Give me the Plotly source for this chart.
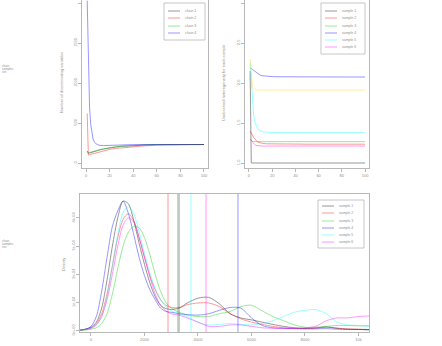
import plotly.graph_objects as go

W, H = 442, 346

# ---------------- data ----------------
# Top-left: number of discriminating variables per iteration, 4 chains
iters = [1, 2, 3, 4, 5, 6, 7, 8, 10, 12, 15, 20, 25, 30, 40, 50, 60, 70, 80, 90, 100]
chain_labels = ["chain 1", "chain 2", "chain 3", "chain 4"]
chain_colors = ["#000000", "#FF0000", "#00CD00", "#0000FF"]
chain_black = [150, 120, 125, 130, 135, 140, 145, 150, 158, 165, 175, 190, 200, 208, 218, 224, 228, 230, 231, 231, 231]
chain_red = [620, 100, 104, 108, 112, 116, 120, 124, 130, 138, 150, 170, 182, 190, 205, 215, 224, 229, 231, 231, 231]
chain_green = [140, 130, 132, 135, 140, 144, 148, 152, 160, 168, 178, 192, 202, 210, 220, 226, 229, 230, 231, 231, 231]
chain_blue = [2030, 1150, 700, 480, 360, 300, 265, 245, 228, 220, 218, 222, 226, 228, 230, 231, 231, 231, 231, 231, 231]
chain_values = [chain_black, chain_red, chain_green, chain_blue]
tl_yticks = [0, 500, 1000, 1500, 2000]

# Top-right: unobserved heterogeneity per sample
sample_labels = ["sample 1", "sample 2", "sample 3", "sample 4", "sample 5", "sample 6"]
sample_colors = ["#000000", "#FF0000", "#00CD00", "#0000FF", "#00FFFF", "#FF00FF", "#FFD700"]
het_black = [2.15, 1.0, 1.0, 1.0, 1.0, 1.0, 1.0, 1.0, 1.0, 1.0, 1.0, 1.0, 1.0, 1.0, 1.0, 1.0, 1.0, 1.0, 1.0, 1.0, 1.0]
het_red = [1.40, 1.38, 1.35, 1.32, 1.30, 1.28, 1.27, 1.26, 1.25, 1.245, 1.24, 1.238, 1.236, 1.235, 1.235, 1.235, 1.235, 1.235, 1.235, 1.235, 1.235]
het_green = [1.30, 1.28, 1.27, 1.268, 1.267, 1.267, 1.267, 1.267, 1.267, 1.267, 1.267, 1.267, 1.267, 1.267, 1.267, 1.267, 1.267, 1.267, 1.267, 1.267, 1.267]
het_blue = [2.18, 2.18, 2.17, 2.16, 2.14, 2.13, 2.12, 2.11, 2.095, 2.09, 2.085, 2.08, 2.078, 2.077, 2.076, 2.075, 2.075, 2.075, 2.075, 2.075, 2.075]
het_cyan = [2.25, 2.0, 1.75, 1.6, 1.52, 1.47, 1.44, 1.42, 1.40, 1.39, 1.385, 1.38, 1.38, 1.38, 1.38, 1.38, 1.38, 1.38, 1.38, 1.38, 1.38]
het_magenta = [1.30, 1.28, 1.26, 1.24, 1.23, 1.22, 1.218, 1.215, 1.213, 1.212, 1.212, 1.212, 1.212, 1.212, 1.212, 1.212, 1.212, 1.212, 1.212, 1.212, 1.212]
het_yellow = [2.30, 2.05, 1.95, 1.93, 1.92, 1.915, 1.913, 1.912, 1.912, 1.912, 1.912, 1.912, 1.912, 1.912, 1.912, 1.912, 1.912, 1.912, 1.912, 1.912, 1.912]
het_values = [het_black, het_red, het_green, het_blue, het_cyan, het_magenta, het_yellow]
tr_yticks = [1.0, 1.5, 2.0, 2.5, 3.0]
iter_ticks = [0, 20, 40, 60, 80, 100]

# Bottom: densities (units of 1e-4)
dens_x = [-400, -200, 0, 200, 400, 600, 800, 1000, 1200, 1400, 1600, 1800, 2000, 2200, 2400, 2600, 2800,
          3000, 3300, 3600, 4000, 4400, 4800, 5200, 5600, 6000, 6400, 6800, 7200, 7600, 8000, 8400, 8800,
          9200, 9600, 10000, 10400]
dens_black = [0.02, 0.05, 0.12, 0.3, 0.8, 1.8, 3.0, 4.0, 4.6, 4.5, 3.9, 3.1, 2.35, 1.7, 1.2, 0.9, 0.78,
              0.75, 0.8, 0.98, 1.15, 1.18, 0.95, 0.6, 0.45, 0.38, 0.3, 0.22, 0.15, 0.1, 0.08, 0.1, 0.13,
              0.08, 0.05, 0.04, 0.03]
dens_red = [0.02, 0.05, 0.1, 0.25, 0.6, 1.3, 2.3, 3.3, 3.95, 4.15, 3.9, 3.3, 2.6, 1.95, 1.45, 1.1, 0.9,
            0.82, 0.82, 0.92, 0.98, 0.98, 0.85, 0.6, 0.42, 0.3, 0.22, 0.15, 0.1, 0.08, 0.07, 0.08, 0.12,
            0.09, 0.06, 0.05, 0.04]
dens_green = [0.01, 0.02, 0.05, 0.1, 0.25, 0.6, 1.3, 2.2, 3.0, 3.5, 3.7, 3.65, 3.3, 2.7, 2.0, 1.4, 1.0,
              0.8, 0.65, 0.55, 0.5, 0.5, 0.6, 0.68, 0.85, 0.9, 0.7, 0.5, 0.35, 0.2, 0.12, 0.12, 0.15,
              0.18, 0.18, 0.17, 0.17]
dens_blue = [0.02, 0.05, 0.15, 0.5, 1.4, 2.6, 3.7, 4.25, 4.6, 4.15, 3.4, 2.6, 1.95, 1.45, 1.1, 0.8, 0.68,
             0.65, 0.6, 0.57, 0.55, 0.6, 0.72, 0.82, 0.8, 0.45, 0.18, 0.1, 0.08, 0.07, 0.06, 0.06, 0.07,
             0.05, 0.04, 0.04, 0.03]
dens_cyan = [0.02, 0.04, 0.08, 0.2, 0.5, 1.2, 2.3, 3.4, 4.2, 4.4, 4.15, 3.5, 2.75, 2.05, 1.5, 1.1, 0.85,
             0.7, 0.6, 0.5, 0.3, 0.2, 0.22, 0.25, 0.22, 0.2, 0.25, 0.35, 0.5, 0.65, 0.72, 0.75, 0.6,
             0.3, 0.2, 0.18, 0.15]
dens_magenta = [0.02, 0.04, 0.08, 0.2, 0.5, 1.1, 2.0, 3.0, 3.75, 4.0, 3.85, 3.3, 2.6, 1.9, 1.3, 0.9, 0.7,
                0.6, 0.55, 0.45, 0.3, 0.15, 0.15, 0.2, 0.2, 0.15, 0.1, 0.08, 0.07, 0.08, 0.1, 0.15, 0.35,
                0.45, 0.45, 0.5, 0.52]
dens_values = [dens_black, dens_red, dens_green, dens_blue, dens_cyan, dens_magenta]
dens_means = [3290, 2879, 3240, 5495, 3738, 4300]
dens_yticks = [0, 1, 2, 3, 4]
dens_yticklabels = ["0e+00", "1e-04", "2e-04", "3e-04", "4e-04"]
dens_xticks = [0, 2000, 4000, 6000, 8000, 10000]

# ---------------- styling helpers ----------------
def px(x):
    return x / W

def py(y):
    return 1 - y / H

AX = "#b8b8b8"
TXT = "#909090"
LW = 0.9
OP = 0.45

fig = go.Figure()

for vals, col in zip(chain_values, chain_colors):
    fig.add_trace(go.Scatter(x=iters, y=vals, mode="lines", xaxis="x", yaxis="y",
                             line=dict(color=col, width=LW), opacity=OP, showlegend=False))
for vals, col in zip(het_values, sample_colors):
    fig.add_trace(go.Scatter(x=iters, y=vals, mode="lines", xaxis="x2", yaxis="y2",
                             line=dict(color=col, width=LW), opacity=OP, showlegend=False))
for vals, col in zip(dens_values, sample_colors):
    fig.add_trace(go.Scatter(x=dens_x, y=vals, mode="lines", xaxis="x3", yaxis="y3",
                             line=dict(color=col, width=LW, shape="spline", smoothing=0.8),
                             opacity=OP, showlegend=False))
for m, col in zip(dens_means, sample_colors):
    fig.add_shape(type="line", xref="x3", yref="y3 domain", x0=m, x1=m, y0=0, y1=1,
                  line=dict(color=col, width=LW), opacity=OP)

tick = dict(ticks="outside", ticklen=3, tickcolor=AX, tickwidth=0.8,
            showgrid=False, zeroline=False, showline=True, linecolor=AX, linewidth=0.8,
            tickfont=dict(size=4, color=TXT, family="Liberation Sans"), automargin=False)

fig.update_layout(
    width=W, height=H, margin=dict(l=0, r=0, t=0, b=0),
    paper_bgcolor="white", plot_bgcolor="white", showlegend=False,
    xaxis=dict(domain=[px(82), px(208)], range=[-3.4, 103.4], tickvals=iter_ticks, anchor="y",
               mirror=False, **tick),
    yaxis=dict(domain=[py(168), 1], range=[-62.5, 2037.5], tickvals=tl_yticks, anchor="x",
               tickangle=-90, mirror=True, **tick),
    xaxis2=dict(domain=[px(245), px(369)], range=[-3.4, 103.4], tickvals=iter_ticks, anchor="y2",
                mirror=False, **tick),
    yaxis2=dict(domain=[py(168), 1], range=[0.9375, 3.0375], tickvals=tr_yticks,
                ticktext=["1.0", "1.5", "2.0", "2.5", "3.0"], anchor="x2",
                tickangle=-90, mirror=True, **tick),
    xaxis3=dict(domain=[px(80), px(369)], range=[-411, 10393], tickvals=dens_xticks, anchor="y3",
                mirror=True, **tick),
    yaxis3=dict(domain=[py(332), py(194)], range=[-0.05, 4.85], tickvals=dens_yticks,
                ticktext=dens_yticklabels, anchor="x3", tickangle=-90, mirror=True, **tick),
)

ann = []
def text(x, y, s, angle=0, size=4, xanchor="center"):
    ann.append(dict(x=px(x), y=py(y), xref="paper", yref="paper", text=s, showarrow=False,
                    textangle=angle, xanchor=xanchor, yanchor="middle",
                    font=dict(size=size, color=TXT, family="Liberation Sans")))

text(62, 83, "Number of discriminating variables", angle=-90)
text(224, 83, "Unobserved heterogeneity for each sample", angle=-90)
text(63, 265, "Density", angle=-90)
text(0, 66, "chain", size=3, xanchor="left")
text(0, 69, "samples", size=3, xanchor="left")
text(0, 72, "run", size=3, xanchor="left")
text(0, 241, "chain", size=3, xanchor="left")
text(0, 244, "samples", size=3, xanchor="left")
text(0, 247, "run", size=3, xanchor="left")

def legend(labels, colors, x0, y0, x1, y1, ys, lx0, lx1, tx):
    fig.add_shape(type="rect", xref="paper", yref="paper", x0=px(x0), x1=px(x1), y0=py(y1), y1=py(y0),
                  line=dict(color=AX, width=0.8))
    for lab, col, yy in zip(labels, colors, ys):
        fig.add_shape(type="line", xref="paper", yref="paper", x0=px(lx0), x1=px(lx1), y0=py(yy), y1=py(yy),
                      line=dict(color=col, width=LW), opacity=OP)
        text(tx, yy, lab, size=3.5, xanchor="left")

legend(chain_labels, chain_colors, 164, 3, 205, 40, [11, 18, 26, 33], 168, 180, 183)
legend(sample_labels, sample_colors, 321, 3, 365, 54, [11, 18, 26, 33, 40, 47], 325, 337, 340)
legend(sample_labels, sample_colors, 318, 200, 364, 248, [206, 213, 221, 228, 235, 242], 322, 334, 337)

fig.update_layout(annotations=ann)
fig.write_html("out.html")
